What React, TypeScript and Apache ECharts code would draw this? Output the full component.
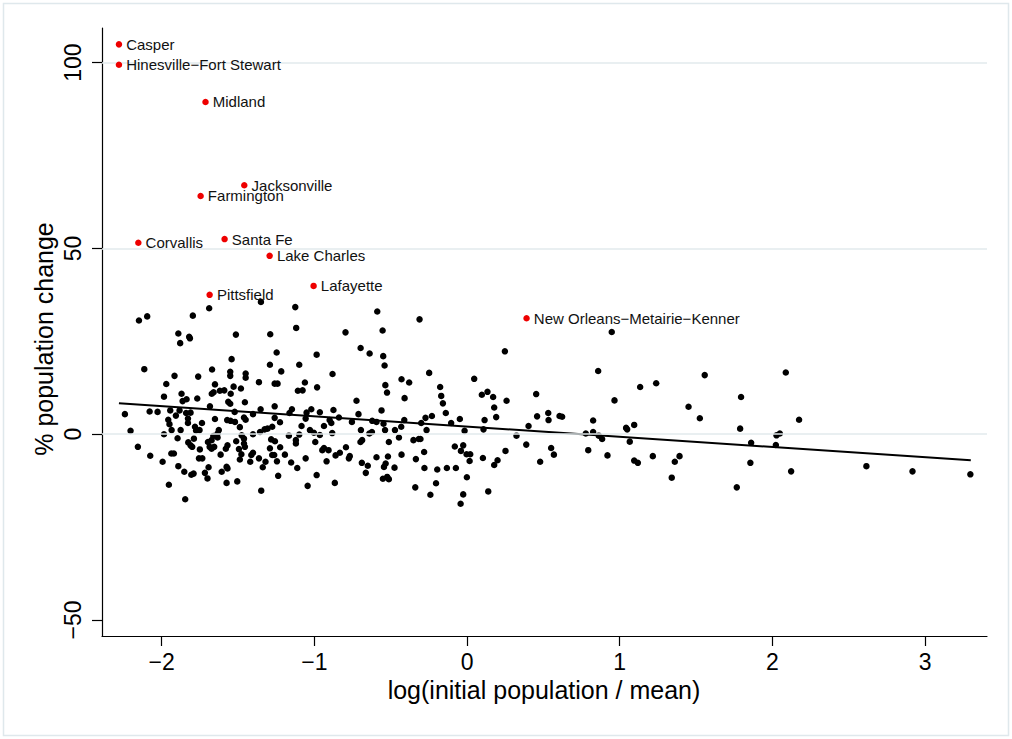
import React, { useEffect, useRef } from "react";
import * as echarts from "echarts";

// ---- data ----
const xTicks = [-2, -1, 0, 1, 2, 3];
const yTicks = [-50, 0, 50, 100];
const gridValues = [0, 50, 100];

const labeledNames = [
  "Casper", "Hinesville\u2212Fort Stewart", "Midland", "Jacksonville", "Farmington",
  "Corvallis", "Santa Fe", "Lake Charles", "Lafayette", "Pittsfield",
  "New Orleans\u2212Metairie\u2212Kenner",
];
const labeledX = [-2.28, -2.28, -1.713, -1.459, -1.745, -2.153, -1.588, -1.293, -1.005, -1.686, 0.39];
const labeledY = [104.9, 99.4, 89.4, 67.0, 64.1, 51.5, 52.5, 48.0, 39.9, 37.5, 31.2];

const fitX = [-2.28, 3.3];
const fitY = [8.3, -7.0];

const pointsLeft = [
  [-2.241, 5.4], [-2.204, 0.9], [-2.156, -3.4], [-2.149, 30.6], [-2.114, 17.5], [-2.095, 31.7],
  [-2.079, 6.1], [-2.075, -5.8], [-2.027, 6.0], [-1.994, -7.4], [-1.985, 0.0], [-1.985, 10.1],
  [-1.97, 13.5], [-1.957, 3.9], [-1.953, -13.6], [-1.949, 2.7], [-1.944, 6.4], [-1.937, -5.2],
  [-1.935, 1.1], [-1.92, -5.2], [-1.916, 15.7], [-1.907, 5.0], [-1.896, -1.1], [-1.891, -8.6],
  [-1.891, 27.1], [-1.883, 6.4], [-1.879, 24.5], [-1.876, 1.1], [-1.87, 10.9], [-1.863, 8.9],
  [-1.852, -10.1], [-1.846, -17.5], [-1.84, 5.7], [-1.837, 9.4], [-1.828, 4.2], [-1.828, 3.0],
  [-1.826, -2.2], [-1.82, 26.2], [-1.815, 25.8], [-1.811, 5.8], [-1.811, -3.0], [-1.806, -10.9],
  [-1.8, -3.4], [-1.796, 31.9], [-1.791, -10.6], [-1.789, -1.2], [-1.782, 2.0], [-1.775, 1.0],
];

const pointsMidLeft = [
  [-1.761, 15.5], [-1.767, 9.6], [-1.75, -4.1], [-1.756, -6.5], [-1.752, 1.1], [-1.736, 3.0],
  [-1.734, -6.5], [-1.717, -10.4], [-1.7, -11.9], [-1.697, -2.1], [-1.693, -8.9], [-1.689, 33.9],
  [-1.686, -3.4], [-1.684, 7.5], [-1.673, -1.6], [-1.673, -3.9], [-1.672, 10.9], [-1.67, 17.4],
  [-1.662, -0.5], [-1.66, 11.3], [-1.656, -3.4], [-1.651, 13.4], [-1.651, 4.1], [-1.634, 0.2],
  [-1.634, -0.9], [-1.626, 1.1], [-1.619, 11.7], [-1.614, -5.5], [-1.607, -10.1], [-1.59, 11.8],
  [-1.58, -3.9], [-1.575, -8.8], [-1.575, -13.1], [-1.571, 3.8], [-1.569, -3.0], [-1.569, -9.2],
  [-1.564, 8.7], [-1.551, 8.2], [-1.551, 16.8], [-1.551, 15.7], [-1.549, 3.6], [-1.548, 10.9],
  [-1.542, 20.2], [-1.529, 12.8], [-1.522, 6.0], [-1.52, 3.3], [-1.514, 26.8], [-1.512, -1.9],
  [-1.505, -12.7], [-1.494, -4.0], [-1.488, 1.9], [-1.488, -6.8], [-1.481, 12.3], [-1.478, -5.4],
  [-1.476, -0.3], [-1.461, 4.5], [-1.461, -1.2], [-1.461, -2.5], [-1.455, 8.6], [-1.455, -3.4],
  [-1.45, 16.3], [-1.45, 15.2], [-1.45, 3.9], [-1.42, -7.4], [-1.413, -5.6], [-1.402, 5.4],
  [-1.402, 0.0], [-1.402, -5.0], [-1.363, 14.0], [-1.363, -6.5], [-1.356, 0.6], [-1.352, 6.7],
  [-1.35, 35.6], [-1.348, -15.2], [-1.338, -8.9], [-1.326, 1.3], [-1.32, -7.4], [-1.307, 1.5],
  [-1.291, 18.7], [-1.291, -3.8], [-1.289, 26.9], [-1.283, -1.4], [-1.276, 2.0], [-1.276, -5.6],
  [-1.263, -5.6], [-1.26, 13.6], [-1.26, 7.5], [-1.26, 4.4], [-1.258, -1.9], [-1.247, 22.0],
  [-1.245, -7.3], [-1.241, 13.6], [-1.237, -11.2], [-1.225, 3.2], [-1.224, -3.5], [-1.217, 16.9],
  [-1.193, -5.5], [-1.167, -0.4], [-1.163, 5.7], [-1.152, -7.6], [-1.147, 6.7],
];

const pointsMid = [
  [-1.125, 34.2], [-1.119, 28.6], [-1.121, -1.6], [-1.121, -2.5], [-1.112, -9.1], [-1.108, 11.7],
  [-1.099, 18.7], [-1.099, -0.1], [-1.084, 2.2], [-1.077, 11.8], [-1.062, 13.9], [-1.057, 4.2],
  [-1.057, -6.5], [-1.051, 5.8], [-1.044, -13.9], [-1.029, 1.1], [-1.02, 6.7], [-1.003, 0.4],
  [-0.994, -2.1], [-0.985, 21.4], [-0.985, -11.0], [-0.982, 12.6], [-0.964, 5.9], [-0.964, -0.2],
  [-0.948, -4.3], [-0.937, 2.2], [-0.937, -3.7], [-0.92, -7.3], [-0.907, -4.3], [-0.9, 3.8],
  [-0.889, 3.0], [-0.883, 0.3], [-0.881, 16.2], [-0.875, 6.5], [-0.866, -13.1], [-0.861, -5.7],
  [-0.839, 4.5], [-0.833, -5.0], [-0.796, 27.4], [-0.793, -3.5], [-0.774, -6.5], [-0.768, -5.9],
  [-0.754, 3.3], [-0.724, 9.0], [-0.711, 5.4], [-0.698, -2.1], [-0.697, 23.2], [-0.695, 1.1],
  [-0.689, -7.7], [-0.687, -1.6], [-0.663, -10.4], [-0.65, -8.5], [-0.64, 0.2], [-0.638, 21.7],
  [-0.623, 0.6], [-0.621, 3.6], [-0.593, 3.3], [-0.593, -6.2], [-0.588, 33.0], [-0.56, 6.4],
  [-0.553, 27.9], [-0.551, -12.0], [-0.549, 21.0], [-0.547, 2.8], [-0.544, -8.8], [-0.54, 18.5],
  [-0.537, 1.1], [-0.535, 13.2], [-0.533, -7.9], [-0.524, 11.2], [-0.523, -11.5], [-0.518, -6.0],
  [-0.512, -2.1], [-0.512, -12.1],
];

const pointsMidRight = [
  [-0.472, 1.1], [-0.475, -9.0], [-0.446, -0.9], [-0.431, 2.0], [-0.429, 14.8], [-0.429, -5.5],
  [-0.411, 3.8], [-0.409, 9.7], [-0.379, 13.9], [-0.351, -1.6], [-0.339, -14.3], [-0.335, -6.7],
  [-0.316, -1.3], [-0.311, 30.9], [-0.305, -1.3], [-0.3, 3.0], [-0.281, -4.8], [-0.279, -9.1],
  [-0.272, 4.4], [-0.265, 1.1], [-0.248, 16.5], [-0.24, -16.3], [-0.23, 4.9], [-0.203, -13.2],
  [-0.195, -9.5], [-0.176, 12.7], [-0.169, 10.3], [-0.158, 8.3], [-0.139, 5.7], [-0.132, -9.1],
  [-0.104, 3.0], [-0.08, -3.3], [-0.073, -9.1], [-0.047, 4.1], [-0.042, -18.7], [-0.04, -4.5],
  [-0.025, -3.0], [-0.025, -16.2], [-0.016, 0.9], [-0.003, -5.4], [-0.001, -11.6], [0.017, -7.2],
  [0.021, -5.4], [0.047, 14.9], [0.097, 10.6], [0.104, -6.4], [0.108, 1.3], [0.115, 3.8],
];

const pointsRight = [
  [0.134, 11.4], [0.139, -15.4], [0.171, 10.0], [0.178, 7.2], [0.178, -8.3], [0.191, 4.6],
  [0.2, -7.0], [0.248, 22.3], [0.252, -4.5], [0.259, 9.0], [0.324, -0.4], [0.388, -2.8],
  [0.403, 2.2], [0.453, 10.8], [0.459, 4.8], [0.479, -7.4], [0.532, 5.7], [0.534, 3.8],
  [0.551, -3.7], [0.569, -5.5], [0.606, 4.9], [0.623, 4.7], [0.778, 0.2], [0.794, -4.3],
  [0.826, 0.6], [0.826, 3.7], [0.859, 17.0], [0.863, -0.4], [0.885, -1.3], [0.92, -5.7],
  [0.948, 27.5], [0.966, 9.1], [1.042, 1.7], [1.049, 1.3], [1.066, -2.0], [1.095, 2.5],
  [1.095, -7.1], [1.119, -7.7], [1.134, 12.7],
];

const pointsFarRight = [
  [1.217, -5.9], [1.239, 13.7], [1.341, -11.7], [1.361, -7.4], [1.392, -5.9], [1.451, 7.4],
  [1.525, 4.3], [1.557, 15.9], [1.767, -14.3], [1.789, 1.5], [1.795, 10.0], [1.856, -7.7],
  [1.861, -2.3], [2.023, -2.9], [2.027, -0.3], [2.049, 0.2], [2.088, 16.6], [2.123, -10.0],
  [2.175, 3.9], [2.616, -8.6], [2.918, -10.0], [3.297, -10.8],
];

const FONT = "'Liberation Sans', Arial, Helvetica, sans-serif";
const fmt = (v: number) => (v < 0 ? "\u2212" + Math.abs(v) : String(v));

export default function App() {
  const ref = useRef<HTMLDivElement>(null);

  useEffect(() => {
    document.body.style.margin = "0";
    if (!ref.current) return;
    const chart = echarts.init(ref.current, undefined, { renderer: "svg" });

    const black = [
      ...pointsLeft, ...pointsMidLeft, ...pointsMid, ...pointsMidRight, ...pointsRight, ...pointsFarRight,
    ];
    const red = labeledNames.map((n, i) => ({ name: n, value: [labeledX[i], labeledY[i]] }));
    const fit = fitX.map((x, i) => [x, fitY[i]]);

    chart.setOption({
      animation: false,
      backgroundColor: "#ffffff",
      grid: { left: 102, top: 28, right: 25, bottom: 103, containLabel: false },
      xAxis: {
        type: "value",
        min: -2.391,
        max: 3.406,
        axisLine: { show: true, onZero: false, lineStyle: { color: "#000", width: 1.2 } },
        axisTick: { show: true, inside: false, length: 10, customValues: xTicks, lineStyle: { color: "#000", width: 1.2 } },
        axisLabel: { customValues: xTicks, formatter: fmt, color: "#000", fontSize: 23, fontFamily: FONT, margin: 14 },
        splitLine: { show: false },
      },
      yAxis: {
        type: "value",
        min: -54.3,
        max: 109.3,
        axisLine: { show: true, onZero: false, lineStyle: { color: "#000", width: 1.2 } },
        axisTick: { show: true, inside: false, length: 10, customValues: yTicks, lineStyle: { color: "#000", width: 1.2 } },
        axisLabel: { customValues: yTicks, formatter: fmt, rotate: 90, color: "#000", fontSize: 23, fontFamily: FONT, margin: 18 },
        splitLine: { show: false },
      },
      graphic: [
        {
          type: "rect",
          shape: { x: 3.5, y: 3.5, width: 1005, height: 732 },
          style: { fill: "none", stroke: "#dfe8ec", lineWidth: 1.5 },
          silent: true,
          z: -10,
        },
        {
          type: "text",
          x: 544,
          y: 690,
          style: {
            text: "log(initial population / mean)",
            fill: "#000",
            font: `25px ${FONT}`,
            textAlign: "center",
            textVerticalAlign: "middle",
          },
        },
        {
          type: "text",
          x: 44,
          y: 339,
          rotation: Math.PI / 2,
          style: {
            text: "% population change",
            fill: "#000",
            font: `25px ${FONT}`,
            textAlign: "center",
            textVerticalAlign: "middle",
          },
        },
      ],
      series: [
        {
          type: "scatter",
          data: [],
          z: 1,
          silent: true,
          markLine: {
            silent: true,
            symbol: ["none", "none"],
            label: { show: false },
            lineStyle: { color: "#e2eaed", type: "solid", width: 1.5 },
            data: gridValues.map((v) => ({ yAxis: v })),
          },
        },
        {
          type: "scatter",
          data: black,
          symbol: "circle",
          symbolSize: 6.5,
          itemStyle: { color: "#000", opacity: 1 },
          z: 3,
        },
        {
          type: "line",
          data: fit,
          symbol: "none",
          lineStyle: { color: "#000", width: 2 },
          z: 4,
        },
        {
          type: "scatter",
          data: red,
          symbol: "circle",
          symbolSize: 6.5,
          itemStyle: { color: "#ee0000", opacity: 1 },
          z: 5,
          label: {
            show: true,
            position: "right",
            distance: 4,
            formatter: "{b}",
            color: "#111",
            fontSize: 15,
            fontFamily: FONT,
          },
        },
      ],
    });

    return () => chart.dispose();
  }, []);

  return <div ref={ref} style={{ width: 1012, height: 739 }} />;
}
